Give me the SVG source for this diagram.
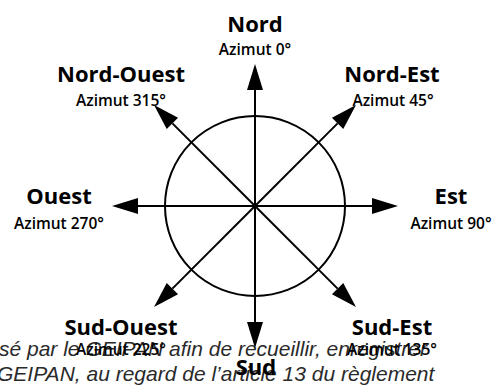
<svg xmlns="http://www.w3.org/2000/svg" width="493" height="385" viewBox="0 0 493 385">
<style>
.bg{fill:#ffffff}
.dir{font-family:"Open Sans","Noto Sans","DejaVu Sans",sans-serif;font-weight:700;font-size:22px;fill:#000;text-anchor:middle}
.az{font-family:"Open Sans","Noto Sans","DejaVu Sans",sans-serif;font-weight:600;font-size:15.5px;fill:#000;text-anchor:middle}
.body{font-family:"Liberation Sans",Arial,sans-serif;font-style:italic;font-size:21px;fill:#2a2a2a}
.ln{stroke:#000;stroke-width:2;fill:none}
.ar{stroke:#000;stroke-width:2;fill:none;marker-end:url(#head)}
</style>
<defs>
<marker id="head" markerUnits="userSpaceOnUse" viewBox="0 -8 26 16" markerWidth="26" markerHeight="16" refX="0" refY="0" orient="auto" overflow="visible">
<path d="M0,-8 L26,0 L0,8 Z" fill="#000"/>
</marker>
</defs>
<rect class="bg" x="0" y="0" width="493" height="385"/>
<g id="body-text">
<text class="body" x="-1" y="356">sé par le GEIPAN afin de recueillir, enregistrer</text>
<text class="body" x="-3" y="381">GEIPAN, au regard de l’article 13 du règlement</text>
</g>
<g id="connectors">
<circle class="ln" cx="255" cy="206" r="90"/>
<line class="ar" x1="255" y1="206" x2="255" y2="90"/>
<line class="ar" x1="255" y1="206" x2="255" y2="322"/>
<line class="ar" x1="255" y1="206" x2="138" y2="206"/>
<line class="ar" x1="255" y1="206" x2="372" y2="206"/>
<line class="ar" x1="255" y1="206" x2="172.4" y2="123.4"/>
<line class="ar" x1="255" y1="206" x2="337.6" y2="123.4"/>
<line class="ar" x1="255" y1="206" x2="172.4" y2="288.6"/>
<line class="ar" x1="255" y1="206" x2="337.6" y2="288.6"/>
</g>
<g id="nord"><text class="dir" x="255" y="32">Nord</text><text class="az" x="255" y="55">Azimut 0°</text></g>
<g id="nord-ouest"><text class="dir" x="121" y="82">Nord-Ouest</text><text class="az" x="121" y="106">Azimut 315°</text></g>
<g id="nord-est"><text class="dir" x="392" y="82">Nord-Est</text><text class="az" x="393" y="106">Azimut 45°</text></g>
<g id="ouest"><text class="dir" x="59" y="204">Ouest</text><text class="az" x="59" y="229">Azimut 270°</text></g>
<g id="est"><text class="dir" x="451" y="204">Est</text><text class="az" x="451" y="229">Azimut 90°</text></g>
<g id="sud-ouest"><text class="dir" x="121" y="335">Sud-Ouest</text><text class="az" x="121" y="355">Azimut 225°</text></g>
<g id="sud-est"><text class="dir" x="392" y="335">Sud-Est</text><text class="az" x="392" y="355">Azimut 135°</text></g>
<g id="sud"><text class="dir" x="256" y="375">Sud</text></g>
</svg>
